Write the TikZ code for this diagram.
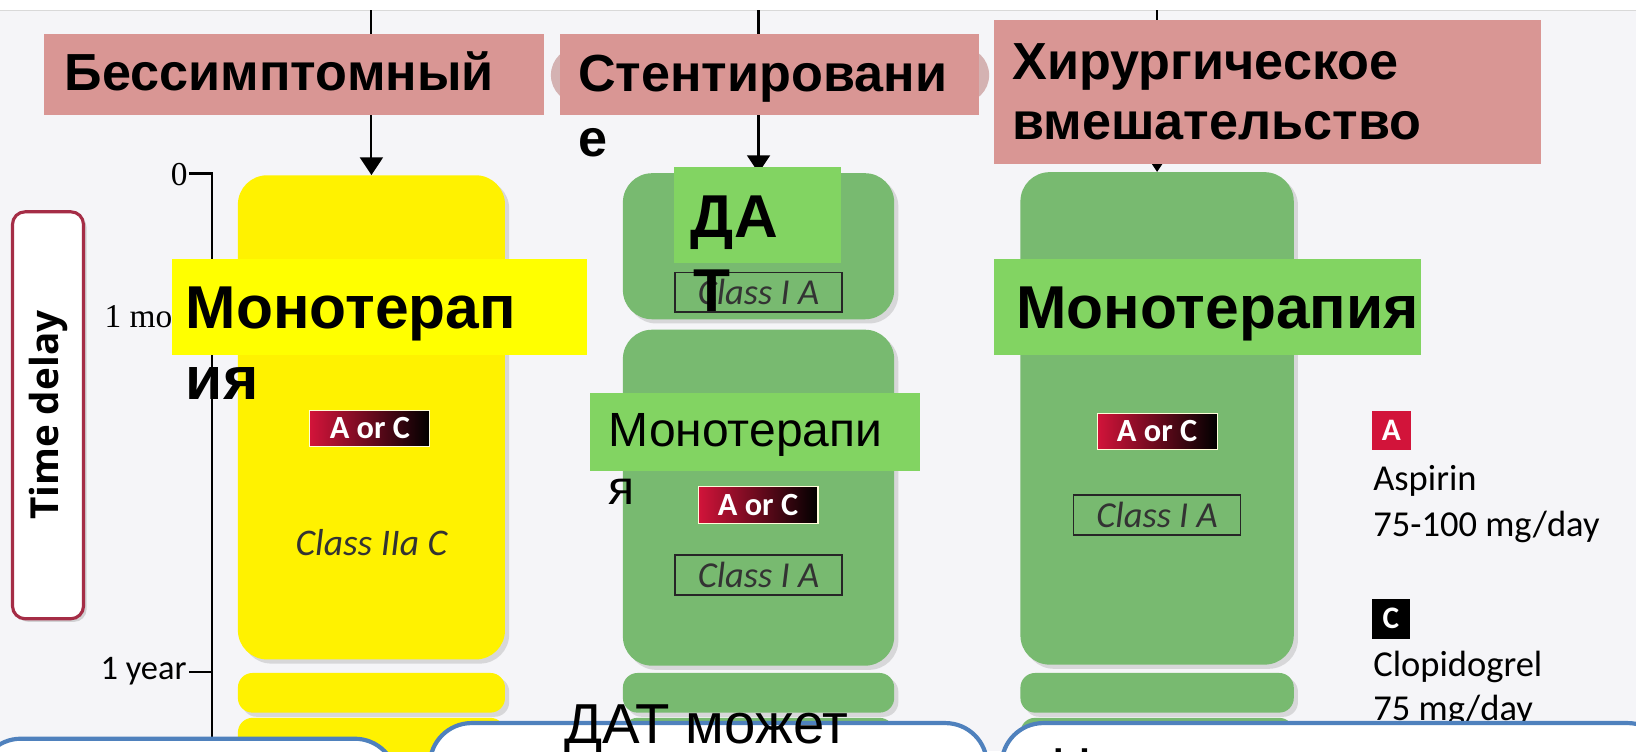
\documentclass[tikz,border=0pt]{standalone}
\usepackage{fontspec}
\setmainfont{Liberation Sans}
\newfontfamily\calibri{Carlito}
\newfontfamily\timesfont{Liberation Serif}
\newfontfamily\opensans{Open Sans}
\usetikzlibrary{positioning, arrows.meta, shadows}

\definecolor{pinkbox}{RGB}{217,150,148}
\definecolor{yellowcol}{RGB}{255,242,0}
\definecolor{yellowlab}{RGB}{255,255,0}
\definecolor{greencol}{RGB}{120,186,112}
\definecolor{greenlab}{RGB}{130,212,98}
\definecolor{crimson}{RGB}{210,20,58}
\definecolor{blueline}{RGB}{79,129,189}
\definecolor{maroon}{RGB}{165,45,70}
\definecolor{paper}{RGB}{245,245,248}

\newcommand\pinklabfont{\fontsize{50}{60}\selectfont\bfseries}
\newcommand\therapyfont{\fontsize{58}{68}\selectfont\bfseries}
\newcommand\therapysmall{\fontsize{46}{55}\selectfont}
\newcommand\notefont{\fontsize{54}{60}\selectfont}
\newcommand\legendfont{\calibri\fontsize{35}{40}\selectfont}
\newcommand\classfont{\calibri\itshape\fontsize{35}{38}\selectfont}

\tikzset{
>={Triangle[width=22pt,length=17pt]}, % filled arrow heads
column/.style={rounded corners=28pt, inner sep=0pt, drop shadow={opacity=0.25, shadow xshift=4pt, shadow yshift=-4pt}}, % therapy bars
colseg/.style={column, rounded corners=14pt}, % short bar pieces after one year
pink/.style={fill=pinkbox, inner sep=0pt}, % situation headers
lab/.style={inner sep=0pt, anchor=base west}, % text set on its baseline
badge/.style={shading=axis, left color=crimson, right color=black, draw=white!85!yellow, line width=1pt, minimum width=115pt, minimum height=35pt, inner sep=0pt, text=white, font=\calibri\bfseries\fontsize{31}{33}\selectfont},
classbox/.style={draw=black!85, line width=1.5pt, minimum width=160pt, minimum height=38pt, inner sep=0pt, font=\classfont, text=black!80},
bluebox/.style={draw=blueline, line width=4pt, fill=white, rounded corners=40pt, inner sep=0pt},
delaybox/.style={draw=maroon, line width=3pt, fill=white, rounded corners=12pt, inner sep=0pt, drop shadow={opacity=0.3, shadow xshift=3pt, shadow yshift=-3pt}},
legsq/.style={inner sep=0pt, minimum width=37pt, minimum height=38pt, text=white, font=\calibri\bfseries\fontsize{30}{32}\selectfont},
}

\begin{document}
\begin{tikzpicture}[x=1pt, y=-1pt]
\useasboundingbox (0,0) rectangle (1568,720);
\fill[white] (0,0) rectangle (1568,720);
\fill[paper] (0,10) rectangle (1568,720);
\draw[gray!30, line width=1.5pt] (0,10) -- (1568,10);

% time axis
\node[delaybox, minimum width=68pt, minimum height=390pt] (delay) at (46,398) {};
\node[rotate=90, inner sep=0pt, font=\opensans\bfseries\fontsize{37}{40}\selectfont] (delaytxt) at (46,398) {Time delay};
\draw[line width=2.5pt] (181,166) -- (203,166) -- (203,730);
\draw[line width=2pt] (185,303) -- (203,303);
\draw[line width=2pt] (181,644) -- (203,644);
\node[inner sep=0pt, anchor=east, font=\timesfont\fontsize{32}{34}\selectfont] (t0) at (180,167) {0};
\node[lab, font=\timesfont\fontsize{32}{34}\selectfont] (tmonth) at (100,314) {1 month};
\node[inner sep=0pt, anchor=base east, font=\calibri\fontsize{33}{36}\selectfont] (tyear) at (179,651) {1 year};

% therapy bars
\node[column, fill=yellowcol, minimum width=256pt, minimum height=464pt] (ymain) at (356,400) {};
\node[colseg, fill=yellowcol, minimum width=256pt, minimum height=38pt] (yseg) at (356,664) {};
\node[colseg, fill=yellowcol, minimum width=256pt, minimum height=80pt] (ytail) at (356,728) {};
\node[column, fill=greencol, minimum width=260pt, minimum height=140pt] (gtop) at (727,236) {};
\node[column, fill=greencol, minimum width=260pt, minimum height=322pt] (gmain) at (727,477) {};
\node[colseg, fill=greencol, minimum width=260pt, minimum height=38pt] (gseg) at (727,664) {};
\node[colseg, fill=greencol, minimum width=260pt, minimum height=80pt] (gtail) at (727,728) {};
\node[column, fill=greencol, minimum width=262pt, minimum height=472pt] (hmain) at (1109,401) {};
\node[colseg, fill=greencol, minimum width=262pt, minimum height=38pt] (hseg) at (1109,664) {};
\node[colseg, fill=greencol, minimum width=262pt, minimum height=80pt] (htail) at (1109,728) {};

\coordinate (t1) at (356,10);
\coordinate (t2) at (727,10);
\coordinate (t3) at (1109,10);
\draw[->, line width=2pt] (t1) -- (ymain.north);
\draw[->, line width=2pt] (t2) -- (gtop.north);
\draw[->, line width=2pt] (t3) -- (hmain.north);

\node[badge] (ac1) at (354.5,410.5) {A or C};
\node[badge] (ac2) at (726.5,484) {A or C};
\node[badge] (ac3) at (1109,413.5) {A or C};
\node[inner sep=0pt, font=\calibri\itshape\fontsize{36}{38}\selectfont, text=black!80] (cl1) at (356,520) {Class IIa C};
\node[classbox] (cl2a) at (727,280) {Class I A};
\node[classbox] (cl2b) at (727,551) {Class I A};
\node[classbox] (cl3) at (1109,493.5) {Class I A};

% headers
\node[fill={rgb,255:red,212;green,178;blue,178}, rounded corners=27pt, minimum width=420pt, minimum height=54pt] (blob) at (738,72) {};
\node[pink, minimum width=479pt, minimum height=77pt] (asym) at (281.5,71.5) {};
\node[pink, minimum width=401pt, minimum height=77pt] (stent) at (737.5,71.5) {};
\node[pink, minimum width=524pt, minimum height=138pt] (surg) at (1215,88) {};
\node[lab, font=\pinklabfont] (asymtxt) at (62,87) {Бессимптомный};
\node[lab, font=\pinklabfont] (stenttxt) at (554,88) {Стентировани};
\node[lab, font=\pinklabfont] (stenttxtb) at (554,150) {е};
\node[lab, font=\pinklabfont] (surgtxt) at (970,76) {Хирургическое};
\node[lab, font=\pinklabfont] (surgtxtb) at (970,134) {вмешательство};

% therapy labels
\node[fill=yellowlab, minimum width=398pt, minimum height=92pt, inner sep=0pt] (ylab) at (364,294) {};
\node[lab, font=\therapyfont] (ylabtxt) at (178,315) {Монотерап};
\node[lab, font=\therapyfont] (ylabtxtb) at (178,383) {ия};
\node[fill=greenlab, minimum width=160pt, minimum height=92pt, inner sep=0pt] (dat) at (726,206) {};
\node[lab, font=\therapyfont] (dattxt) at (662,228) {ДА};
\node[lab, font=\therapyfont] (dattxtb) at (664,299) {Т};
\node[fill=greenlab, minimum width=317pt, minimum height=74pt, inner sep=0pt] (mono2) at (723.5,414) {};
\node[lab, font=\therapysmall] (mono2txt) at (583,428) {Монотерапи};
\node[lab, font=\therapysmall] (mono2txtb) at (583,484) {я};
\node[fill=greenlab, minimum width=409pt, minimum height=92pt, inner sep=0pt] (mono3) at (1157.5,294) {};
\node[lab, font=\therapyfont] (mono3txt) at (974,315) {Монотерапия};

% legend
\node[legsq, fill=crimson] (legA) at (1333.5,412.5) {A};
\node[lab, font=\legendfont] (asp) at (1316,470) {Aspirin};
\node[lab, font=\legendfont] (aspdose) at (1316,514) {75-100 mg/day};
\node[legsq, fill=black] (legC) at (1333,593) {C};
\node[lab, font=\legendfont] (clop) at (1316,648) {Clopidogrel};
\node[lab, font=\legendfont] (clopdose) at (1316,691) {75 mg/day};

% notes
\node[bluebox, minimum width=400pt, minimum height=160pt] (noteA) at (180,788) {};
\node[bluebox, minimum width=534pt, minimum height=160pt] (noteB) at (679,773) {};
\node[bluebox, minimum width=640pt, minimum height=160pt] (noteC) at (1280,773) {};
\node[inner sep=0pt, anchor=base, font=\notefont] (noteBtxt) at (677,713) {ДАТ может};
\node[lab, font=\notefont] (noteCtxt) at (1008,755) {Н};
\end{tikzpicture}
\end{document}
